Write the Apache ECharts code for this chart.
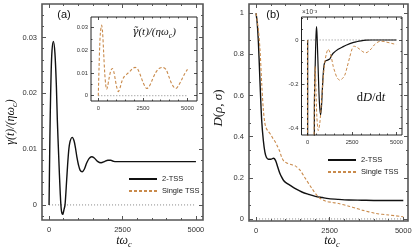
<!DOCTYPE html>
<html><head><meta charset="utf-8">
<script src="https://cdn.jsdelivr.net/npm/echarts@6/dist/echarts.min.js"></script>
<style>html,body{margin:0;padding:0;background:#fff}#c{width:415px;height:249px}</style>
</head><body><div id="c"></div>
<script>
// ---------------- data ----------------
// (a) main: gamma(t)/(eta w_c), 2-TSS
const tA2 = [0, 20, 40, 70, 100, 146, 200, 250, 282, 330, 380, 420, 466, 510, 544, 600, 650, 700, 789, 850, 900, 950, 1000, 1060, 1129, 1200, 1280, 1360, 1449, 1540, 1650, 1769, 1900, 2000, 2100, 2200, 2300, 2500, 5000];
const gA2 = [0, 0.0085, 0.0160, 0.0235, 0.0276, 0.0293, 0.0272, 0.0212, 0.0152, 0.0085, 0.0022, -0.0010, -0.0017, -0.0008, 0.0000, 0.0045, 0.0085, 0.0110, 0.0121, 0.0115, 0.0102, 0.0085, 0.0072, 0.0062, 0.00595, 0.0064, 0.0075, 0.0083, 0.00863, 0.0084, 0.0078, 0.00755, 0.0078, 0.0080, 0.0080, 0.0078, 0.00775, 0.00775, 0.00775];
// (a) inset: gamma-tilde(t)/(eta w_c), single TSS
const tAi = [0, 40, 80, 120, 187, 240, 300, 360, 420, 468, 520, 600, 700, 787, 870, 950, 1030, 1124, 1220, 1330, 1460, 1600, 1780, 1920, 2060, 2200, 2350, 2500, 2620, 2716, 2850, 3000, 3200, 3400, 3615, 3800, 3950, 4100, 4250, 4345, 4500, 4700, 4850, 5000];
const gAi = [0, 0.012, 0.022, 0.028, 0.0311, 0.028, 0.019, 0.010, 0.0045, 0.0028, 0.004, 0.0075, 0.011, 0.012, 0.0105, 0.0072, 0.0038, 0.0018, 0.0035, 0.0065, 0.0085, 0.0095, 0.0108, 0.0120, 0.0125, 0.0118, 0.0092, 0.0060, 0.0040, 0.0032, 0.0040, 0.0065, 0.0100, 0.0120, 0.0125, 0.0115, 0.0085, 0.0055, 0.0036, 0.0032, 0.0045, 0.0075, 0.0098, 0.0116];
// (b) main: D(rho, sigma)
const tB2 = [0, 40, 79, 135, 191, 248, 300, 350, 420, 500, 590, 660, 730, 800, 870, 930, 1000, 1160, 1350, 1556, 1800, 2011, 2250, 2465, 2800, 3147, 3600, 4000, 5000];
const dB2 = [1.0, 0.95, 0.86, 0.66, 0.48, 0.38, 0.325, 0.30, 0.29, 0.29, 0.295, 0.285, 0.255, 0.225, 0.203, 0.188, 0.178, 0.163, 0.146, 0.131, 0.119, 0.110, 0.104, 0.099, 0.095, 0.092, 0.091, 0.090, 0.090];
const tB1 = [0, 40, 79, 135, 191, 248, 300, 350, 420, 500, 580, 650, 720, 800, 870, 950, 1040, 1160, 1330, 1500, 1670, 1897, 2124, 2352, 2600, 2806, 3147, 3400, 3601, 4056, 4510, 5000];
const dB1 = [1.0, 0.96, 0.92, 0.82, 0.66, 0.53, 0.465, 0.44, 0.425, 0.41, 0.39, 0.375, 0.355, 0.33, 0.30, 0.28, 0.272, 0.266, 0.258, 0.236, 0.198, 0.148, 0.106, 0.087, 0.080, 0.075, 0.062, 0.052, 0.043, 0.027, 0.019, 0.011];
// (b) inset: dD/dt (x 1e-3)
const tBi2 = [0, 10, 330, 380, 430, 470, 504, 540, 600, 660, 729, 780, 830, 880, 930, 1000, 1065, 1150, 1250, 1350, 1435, 1716, 2000, 2186, 2500, 2747, 3000, 3300, 3600, 5000];
const rBi2 = [0, -2, -2, -0.3, -0.1, 0.02, 0.06, 0.0, -0.15, -0.28, -0.34, -0.3, -0.22, -0.15, -0.11, -0.095, -0.093, -0.09, -0.085, -0.07, -0.06, -0.042, -0.03, -0.023, -0.013, -0.008, -0.004, -0.001, 0, 0];
const tBi1 = [0, 10, 320, 360, 400, 425, 460, 520, 600, 680, 760, 850, 950, 1060, 1158, 1250, 1345, 1440, 1530, 1650, 1811, 1950, 2090, 2230, 2371, 2500, 2595, 2750, 2932, 3100, 3268, 3420, 3587, 3750, 3957, 4100, 4238, 4400, 4612, 4800, 5000];
const rBi1 = [0, -2, -2, -0.45, -0.15, -0.12, -0.2, -0.35, -0.41, -0.38, -0.3, -0.2, -0.11, -0.06, -0.042, -0.055, -0.083, -0.12, -0.144, -0.17, -0.182, -0.175, -0.159, -0.12, -0.076, -0.04, -0.028, -0.032, -0.042, -0.053, -0.058, -0.052, -0.039, -0.022, -0.009, -0.006, -0.006, -0.009, -0.013, -0.017, -0.02];
// reference zero lines
const zeroT = [0, 5000];
const zeroV = [0, 0];
// tick values
const tMajor = [0, 2500, 5000];
const tMinor = [500, 1000, 1500, 2000, 3000, 3500, 4000, 4500];
const yMajA = [0, 0.01, 0.02, 0.03];
const yMinA = [-0.002, 0.002, 0.004, 0.006, 0.008, 0.012, 0.014, 0.016, 0.018, 0.022, 0.024, 0.026, 0.028, 0.032, 0.034];
const yMajAi = [0, 0.01, 0.02, 0.03];
const yMinAi = [0.005, 0.015, 0.025];
const yMajB = [0, 0.2, 0.4, 0.6, 0.8, 1];
const yMinB = [0.0667, 0.1333, 0.2667, 0.3333, 0.4667, 0.5333, 0.6667, 0.7333, 0.8667, 0.9333];
const yMajBi = [-0.4, -0.2, 0];
const yMinBi = [-0.35, -0.3, -0.25, -0.15, -0.1, -0.05, 0.05, 0.1];
const legendNames = ['2-TSS', 'Single TSS'];

// ---------------- layout ----------------
const BLACK = '#111';
const ORANGE = '#c98a4b';
const grids = [
  {left: 42, top: 4, width: 161, height: 216, xr: [-240, 5240], yr: [-0.0027, 0.036], yMaj: yMajA, yMin: yMinA, main: true},
  {left: 91, top: 17, width: 106, height: 84, xr: [-409, 5532], yr: [-0.00234, 0.0347], yMaj: yMajAi, yMin: yMinAi, main: false},
  {left: 249, top: 4, width: 159, height: 217, xr: [-240, 5160], yr: [-0.01, 1.045], yMaj: yMajB, yMin: yMinB, main: true},
  {left: 301.5, top: 17, width: 100.5, height: 118, xr: [-345, 5306], yr: [-0.43, 0.104], yMaj: yMajBi, yMin: yMinBi, main: false}
];
const xAxes = [], yAxes = [];
function mk(dim, gi, g, pos, vals, len, withLabel) {
  const main = g.main;
  const r = dim === 'x' ? g.xr : g.yr;
  return {
    type: 'value', gridIndex: gi, position: pos, min: r[0], max: r[1],
    axisLine: {show: false, onZero: false}, splitLine: {show: false},
    axisTick: {show: true, inside: true, length: len, customValues: vals,
      lineStyle: {color: main ? '#555' : '#222', width: main ? 1 : 0.8}},
    axisLabel: withLabel ? {show: true, customValues: vals,
      formatter: (v) => String(v),
      fontSize: main ? 7.5 : 5.8, fontFamily: 'Liberation Sans', color: '#333',
      margin: main ? (dim === 'x' ? 6 : 5) : (dim === 'x' ? 4 : 3)} : {show: false}
  };
}
grids.forEach((g, gi) => {
  const L = g.main ? 4 : 3, l = g.main ? 2 : 1.5;
  xAxes.push(mk('x', gi, g, 'bottom', tMajor, L, true));
  xAxes.push(mk('x', gi, g, 'bottom', tMinor, l, false));
  xAxes.push(mk('x', gi, g, 'top', tMajor, L, false));
  xAxes.push(mk('x', gi, g, 'top', tMinor, l, false));
  yAxes.push(mk('y', gi, g, 'left', g.yMaj, L, true));
  yAxes.push(mk('y', gi, g, 'left', g.yMin, l, false));
  yAxes.push(mk('y', gi, g, 'right', g.yMaj, L, false));
  yAxes.push(mk('y', gi, g, 'right', g.yMin, l, false));
});
const zip = (a, b) => a.map((v, i) => [v, b[i]]);
function line(name, gi, ts, vs, color, dashed, width) {
  return {type: 'line', name, xAxisIndex: gi * 4, yAxisIndex: gi * 4, data: zip(ts, vs),
    showSymbol: false, symbol: 'none', smooth: 0.3, clip: true, silent: true, z: 3,
    lineStyle: {color, width, type: dashed ? [3, 2] : 'solid'}, itemStyle: {color}};
}
function zero(gi) {
  return {type: 'line', name: 'zero' + gi, xAxisIndex: gi * 4, yAxisIndex: gi * 4, data: zip(zeroT, zeroV),
    symbol: 'none', silent: true, z: 2, lineStyle: {color: '#555', width: 0.7, type: [1, 2]}};
}
const series = [
  zero(0), zero(1), zero(2), zero(3),
  line('2-TSS', 0, tA2, gA2, BLACK, false, 1.4),
  line('Single TSS', 1, tAi, gAi, ORANGE, true, 1.1),
  line('D 2-TSS', 2, tB2, dB2, BLACK, false, 1.4),
  line('D Single TSS', 2, tB1, dB1, ORANGE, true, 1.1),
  line('dD 2-TSS', 3, tBi2, rBi2, BLACK, false, 1.2),
  line('dD Single TSS', 3, tBi1, rBi1, ORANGE, true, 1.0)
];
const gridOpts = grids.map((g) => ({left: g.left, top: g.top, width: g.width, height: g.height,
  show: true, backgroundColor: g.main ? 'transparent' : '#fff',
  borderColor: g.main ? '#555' : '#222', borderWidth: g.main ? 1.6 : 1, containLabel: false}));

const serif = 'Liberation Serif';
function txt(x, y, text, rich, opts) {
  return Object.assign({type: 'text', x, y, silent: true, z: 100,
    style: {text, rich, align: 'center', verticalAlign: 'middle', textAlign: 'center', textVerticalAlign: 'middle', fill: '#111'}}, opts || {});
}
const mathRich = (fs) => ({
  i: {fontFamily: serif, fontStyle: 'italic', fontSize: fs, lineHeight: fs + 4, verticalAlign: 'middle', color: '#111'},
  r: {fontFamily: serif, fontSize: fs, lineHeight: fs + 4, verticalAlign: 'middle', color: '#111'},
  g: {fontFamily: 'DejaVu Serif', fontStyle: 'italic', fontSize: fs * 0.95, lineHeight: fs + 4, verticalAlign: 'middle', color: '#111'},
  s: {fontFamily: serif, fontStyle: 'italic', fontSize: fs * 0.7, lineHeight: fs * 0.7, verticalAlign: 'bottom', color: '#111'}
});
const graphic = [
  {type: 'text', x: 64, y: 15, silent: true, z: 100, style: {text: '(a)', fontSize: 11, fontFamily: 'Liberation Sans', fill: '#111', align: 'center', verticalAlign: 'middle'}},
  {type: 'text', x: 273, y: 15, silent: true, z: 100, style: {text: '(b)', fontSize: 11, fontFamily: 'Liberation Sans', fill: '#111', align: 'center', verticalAlign: 'middle'}},
  txt(11, 122, '{i|γ(t)/(ηω}{s|c}{i|)}', mathRich(12), {rotation: Math.PI / 2}),
  txt(219, 108, '{i|D}{r|(}{i|ρ, σ}{r|)}', mathRich(13), {rotation: Math.PI / 2}),
  txt(124, 241, '{i|tω}{s|c}', mathRich(12)),
  txt(332, 241, '{i|tω}{s|c}', mathRich(12)),
  txt(154, 32, '{g|γ̃}{i|(t)/(ηω}{s|c}{i|)}', mathRich(11)),
  txt(371, 98, '{r|d}{i|D}{r|/d}{i|t}', mathRich(12.5)),
  {type: 'text', x: 302, y: 12, silent: true, z: 100,
    style: {text: '×10⁻³', fontSize: 6.5, fontFamily: 'Liberation Sans', fill: '#333', align: 'left', verticalAlign: 'middle'}}
];
function legend(left, top) {
  return {left, top, orient: 'vertical', itemWidth: 28, itemHeight: 8, itemGap: 4, padding: 0,
    selectedMode: false, data: legendNames,
    itemStyle: {opacity: 0},
    textStyle: {fontSize: 7.5, fontFamily: 'Liberation Sans', color: '#222'}};
}
const chart = echarts.init(document.getElementById('c'), null, {renderer: 'canvas'});
chart.setOption({
  animation: false,
  backgroundColor: '#fff',
  grid: gridOpts,
  xAxis: xAxes,
  yAxis: yAxes,
  legend: [legend(128, 175), legend(327, 156)],
  series,
  graphic
});
</script></body></html>
